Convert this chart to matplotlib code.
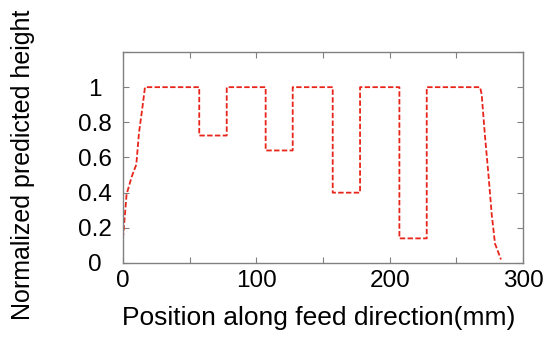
import matplotlib
matplotlib.use("Agg")
import matplotlib.pyplot as plt

plt.rcParams['font.family'] = ['Liberation Sans', 'DejaVu Sans']

position_mm = [0, 2.7, 6.5, 10, 12, 14.5, 16.5,
               57.2, 57.2, 77.8, 77.8,
               107, 107, 127.3, 127.3,
               157.3, 157.3, 177.8, 177.8,
               207.3, 207.3, 227.8, 227.8,
               267.8, 269, 271.5, 274, 276.5, 279, 283.5]
height_norm = [0.14, 0.39, 0.49, 0.56, 0.74, 0.88, 1.0,
               1.0, 0.725, 0.725, 1.0,
               1.0, 0.64, 0.64, 1.0,
               1.0, 0.40, 0.40, 1.0,
               1.0, 0.14, 0.14, 1.0,
               1.0, 0.96, 0.72, 0.51, 0.28, 0.11, 0.02]

x_ticks = [0, 50, 100, 150, 200, 250, 300]
x_labels = ['0', '', '100', '', '200', '', '300']
y_ticks = [0, 0.2, 0.4, 0.6, 0.8, 1.0, 1.2]
y_labels = ['0', '0.2', '0.4', '0.6', '0.8', '1', '']

fig = plt.figure(figsize=(5.59, 3.37), dpi=100)
ax = fig.add_axes([0.22, 0.2196, 0.7156, 0.6261])
ax.plot(position_mm, height_norm, color='#e8251b', lw=1.3,
        linestyle=(0, (3, 1.3)))
ax.set_xlim(0, 300)
ax.set_ylim(0, 1.2)
ax.set_xticks(x_ticks)
ax.set_xticklabels(x_labels)
ax.set_yticks(y_ticks)
ax.set_yticklabels(y_labels)
for s in ax.spines.values():
    s.set_color('#808080')
    s.set_linewidth(1.0)
ax.tick_params(direction='in', length=4, width=0.8, color='#808080',
               top=True, right=True, labelsize=17.5, labelcolor='black')
ax.tick_params(axis='x', pad=5)
ax.tick_params(axis='y', pad=20)
for lab in ax.get_yticklabels():
    lab.set_horizontalalignment('center')
ax.set_xlabel('Position along feed direction(mm)', fontsize=19)
ax.set_ylabel('Normalized predicted height', fontsize=18)
ax.xaxis.set_label_coords(0.489, -0.205)
ax.yaxis.set_label_coords(-0.22, 0.467)
fig.savefig('out.png', dpi=100)
